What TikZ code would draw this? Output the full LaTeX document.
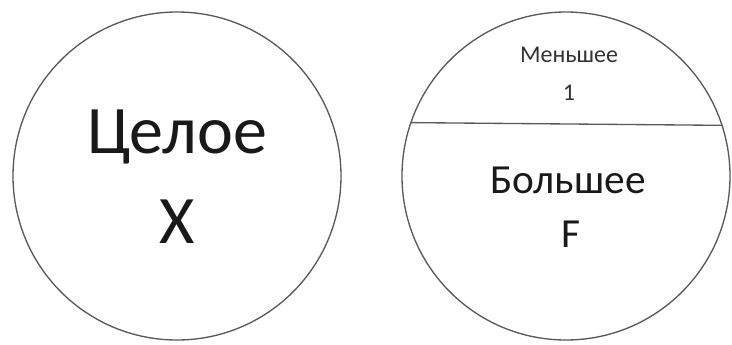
\documentclass[tikz,border=0pt]{standalone}
\usepackage{fontspec}
\setmainfont{Carlito}
\tikzset{
 ring/.style={circle, draw=black!65, line width=1pt, minimum size=246pt, outer sep=0pt, inner sep=0pt},
 big/.style={anchor=base, text=black!90, font=\fontsize{51}{61}\selectfont},
 mid/.style={anchor=base, text=black!90, font=\fontsize{31}{37}\selectfont},
 small/.style={anchor=base, text=black!80, font=\fontsize{18}{22}\selectfont},
}
\begin{document}
\begin{tikzpicture}[x=0.75pt, y=-0.75pt]
 \useasboundingbox (0,0) rectangle (732,344);
 % die beiden Kreise
 \node[ring] (whole) at (177,176) {};
 \node[ring] (parts) at (566,176) {};

 % Trennlinie im rechten Kreis
 \draw[draw=black!65, line width=1pt] (parts.161.5) -- (parts.18.5);

 % linker Kreis
 \node[big] (wholeName) at (177,153) {Целое};
 \node[big] (wholeVal) at (177,243) {X};

 % rechter Kreis
 \node[small] (lessName) at (569,62) {Меньшее};
 \node[small] (lessVal) at (569,100) {1};
 \node[mid] (moreName) at (568,193) {Большее};
 \node[mid] (moreVal) at (571,247) {F};
\end{tikzpicture}
\end{document}
